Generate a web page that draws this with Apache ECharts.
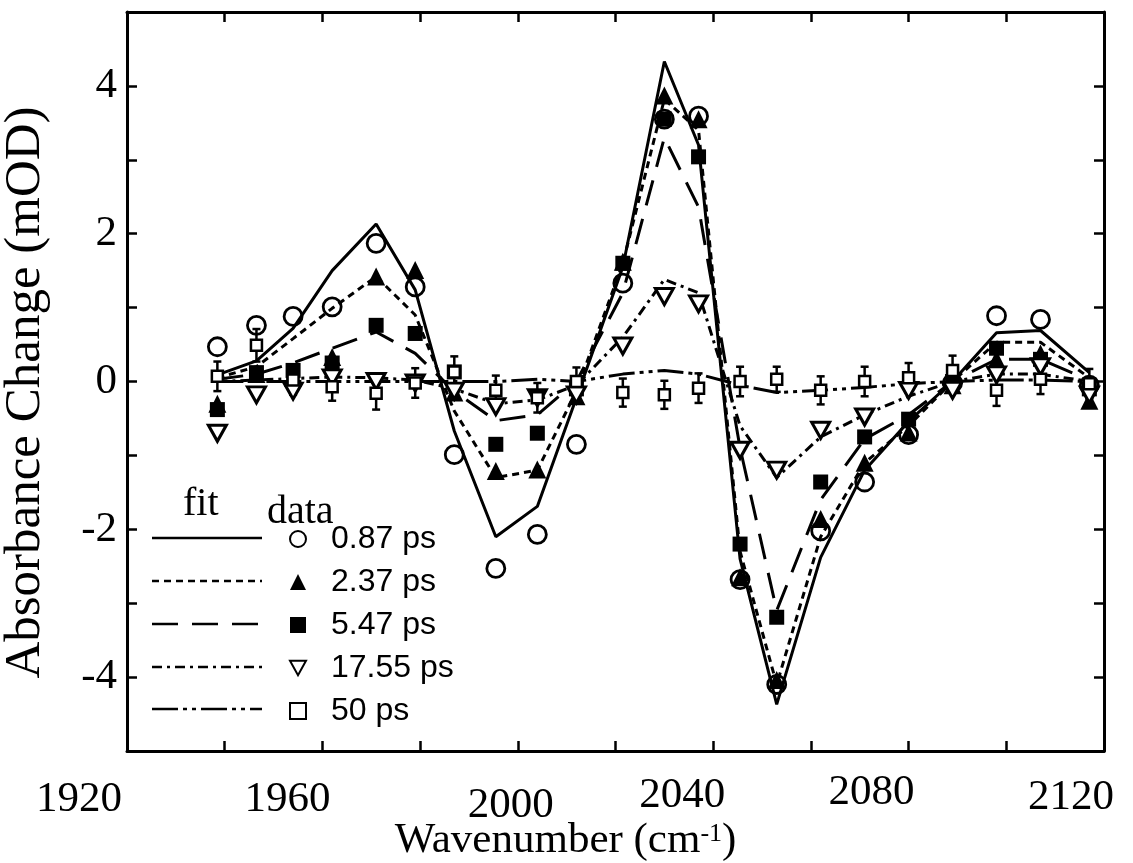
<!DOCTYPE html>
<html>
<head>
<meta charset="utf-8">
<script src="https://cdn.jsdelivr.net/npm/echarts@6/dist/echarts.min.js"></script>
<style>
  html, body { margin: 0; padding: 0; background: #fff; }
  #chart { width: 1133px; height: 863px; }
</style>
</head>
<body>
<div id="chart"></div>
<script>
// wavenumber of each measured point (cm-1)
const wavenumber = [1938.5, 1946.5, 1954, 1962, 1971, 1979, 1987, 1995.5, 2004, 2012, 2021.5,
  2030, 2037, 2045.5, 2053, 2062, 2071, 2080, 2089, 2098, 2107, 2117]

const delays = ['0.87 ps', '2.37 ps', '5.47 ps', '17.55 ps', '50 ps']

// measured absorbance change (mOD)
const data087 = [0.47, 0.76, 0.88, 1.01, 1.87, 1.28, -0.99, -2.53, -2.07, -0.85, 1.33,
  3.55, 3.59, -2.68, -4.1, -2.02, -1.36, -0.72, -0.02, 0.89, 0.84, -0.05]
const data237 = [-0.3, 0.1, 0.05, 0.33, 1.42, 1.51, -0.15, -1.21, -1.19, -0.2, 1.62,
  3.87, 3.55, -2.65, -4.04, -1.86, -1.1, -0.69, -0.05, 0.3, 0.38, -0.26]
const data547 = [-0.38, 0.12, 0.15, 0.25, 0.76, 0.65, 0.13, -0.85, -0.7, -0.1, 1.6,
  3.55, 3.04, -2.2, -3.19, -1.36, -0.75, -0.51, 0.0, 0.45, 0.3, -0.1]
const data1755 = [-0.7, -0.18, -0.13, 0.05, 0.0, -0.02, -0.13, -0.34, -0.22, -0.18, 0.48,
  1.15, 1.05, -0.93, -1.2, -0.66, -0.48, -0.12, -0.12, 0.09, 0.2, -0.18]
const data50 = [0.07, 0.49, 0.02, -0.07, -0.16, -0.02, 0.13, -0.12, -0.22, 0.0, -0.15,
  -0.18, -0.09, 0.0, 0.03, -0.12, 0.0, 0.05, 0.15, -0.12, 0.03, -0.03]
const err50 = [0.2, 0.22, 0.2, 0.19, 0.22, 0.2, 0.21, 0.2, 0.2, 0.19, 0.19,
  0.19, 0.2, 0.2, 0.17, 0.19, 0.2, 0.2, 0.2, 0.21, 0.2, 0.2]

// global fit curves
const fit087 = [0.09, 0.28, 0.72, 1.5, 2.13, 1.24, -0.67, -2.1, -1.69, -0.22, 1.55,
  4.33, 3.2, -2.4, -4.37, -2.38, -1.2, -0.54, 0.0, 0.66, 0.69, 0.12]
const fit237 = [0.05, 0.2, 0.58, 0.99, 1.42, 0.9, -0.4, -1.3, -1.2, -0.13, 1.6,
  3.82, 3.4, -2.3, -4.1, -2.1, -1.1, -0.6, 0.0, 0.53, 0.53, 0.05]
const fit547 = [0.03, 0.1, 0.25, 0.45, 0.67, 0.38, -0.13, -0.53, -0.45, 0.0, 1.2,
  3.3, 2.36, -0.9, -3.1, -1.6, -0.78, -0.45, 0.0, 0.3, 0.3, 0.02]
const fit1755 = [0.0, 0.02, 0.04, 0.06, 0.05, 0.02, -0.1, -0.3, -0.25, -0.05, 0.6,
  1.38, 1.2, -0.6, -1.3, -0.75, -0.45, -0.2, 0.0, 0.1, 0.1, 0.0]
const fit50 = [0.0, 0.0, 0.0, 0.0, 0.0, 0.0, 0.0, 0.0, 0.03, 0.0, 0.1,
  0.15, 0.1, -0.05, -0.15, -0.12, -0.08, -0.03, 0.0, 0.02, 0.02, 0.0]

const xTickLabels = [1920, 1960, 2000, 2040, 2080, 2120]
const yTickLabels = [-4, -2, 0, 2, 4]

const measured = [data087, data237, data547, data1755, data50]
const fits = [fit087, fit237, fit547, fit1755, fit50]

const SERIF = '"Liberation Serif", "Times New Roman", serif'
const SANS = '"Liberation Sans", Arial, sans-serif'

// marker / dash look per delay
const markerStyle = [
  { symbol: 'circle', size: 18, fill: 'rgba(0,0,0,0)', border: 2.8 },
  { symbol: 'triangle', size: [18, 18], fill: '#000', border: 0 },
  { symbol: 'rect', size: 15, fill: '#000', border: 0 },
  { symbol: 'path://M0,0L20,0L10,18Z', size: [18, 16], fill: '#fff', border: 3 },
  { symbol: 'rect', size: 11, fill: '#fff', border: 2.5 }
]
const dashes = ['solid', [7, 5], [26, 14], [10, 5, 3, 5], [26, 5, 4, 5, 4, 5]]

const pairs = arr => wavenumber.map((w, i) => [w, arr[i]])

// the original figure places the x tick labels a bit off their ticks
const xLabelShift = { 1920: [-48, 14], 1960: [-35, 14], 2000: [-7, 26], 2040: [-31, 6], 2080: [-37, 0], 2120: [-33, 9] }
const xRich = {}
xTickLabels.forEach(v => {
  const [dx, dy] = xLabelShift[v]
  xRich['t' + v] = {
    fontFamily: SERIF, fontSize: 43, color: '#000', lineHeight: 44,
    padding: [dy, dx < 0 ? -2 * dx : 0, 0, dx > 0 ? 2 * dx : 0]
  }
})

const errorBars = (params, api) => {
  const x = api.value(0)
  const y = api.value(1)
  const e = api.value(2)
  const hi = api.coord([x, y + e])
  const lo = api.coord([x, y - e])
  const style = { stroke: '#000', lineWidth: 2.5 }
  return {
    type: 'group',
    children: [
      { type: 'line', shape: { x1: hi[0], y1: hi[1], x2: lo[0], y2: lo[1] }, style },
      { type: 'line', shape: { x1: hi[0] - 4, y1: hi[1], x2: hi[0] + 4, y2: hi[1] }, style },
      { type: 'line', shape: { x1: lo[0] - 4, y1: lo[1], x2: lo[0] + 4, y2: lo[1] }, style }
    ]
  }
}

const series = []
fits.forEach((f, i) => {
  series.push({
    name: 'fit ' + delays[i],
    type: 'line',
    data: pairs(f),
    symbol: 'none',
    z: 3,
    lineStyle: { color: '#000', width: 3, type: dashes[i] }
  })
})
series.push({
  name: 'err 50 ps',
  type: 'custom',
  renderItem: errorBars,
  data: wavenumber.map((w, i) => [w, data50[i], err50[i]]),
  z: 2
})
measured.forEach((d, i) => {
  const m = markerStyle[i]
  series.push({
    name: delays[i],
    type: 'scatter',
    data: pairs(d),
    symbol: m.symbol,
    symbolSize: m.size,
    z: 4,
    itemStyle: { color: m.fill, borderColor: '#000', borderWidth: m.border, opacity: 1 }
  })
})

// fit column of the legend
const legendRows = [538, 581, 624, 667, 709]
const graphic = [
  { type: 'text', left: 183, top: 484, style: { text: 'fit', font: '40px ' + SERIF, fill: '#000' } },
  { type: 'text', left: 267, top: 492, style: { text: 'data', font: '40px ' + SERIF, fill: '#000' } }
]
legendRows.forEach((y, i) => {
  graphic.push({
    type: 'line',
    shape: { x1: 152, y1: y, x2: 262, y2: y },
    style: { stroke: '#000', lineWidth: 2.5, lineDash: dashes[i] === 'solid' ? null : dashes[i] }
  })
})

const chart = echarts.init(document.getElementById('chart'))
chart.setOption({
  animation: false,
  backgroundColor: '#fff',
  grid: { left: 127, right: 29, top: 12, bottom: 112, containLabel: false, outerBoundsMode: 'none' },
  legend: {
    orient: 'vertical',
    left: 284,
    top: 518,
    itemWidth: 16,
    itemHeight: 16,
    itemGap: 11,
    selectedMode: false,
    data: delays,
    textStyle: { fontFamily: SANS, fontSize: 32, color: '#000', lineHeight: 30, padding: [0, 0, 0, 20] }
  },
  xAxis: [
    {
      type: 'value', min: 1920, max: 2120, interval: 20, position: 'bottom',
      axisLine: { onZero: false, lineStyle: { color: '#000', width: 3 } },
      axisTick: { inside: true, length: 10, lineStyle: { color: '#000', width: 2.5 } },
      splitLine: { show: false },
      axisLabel: {
        margin: 20,
        hideOverlap: false,
        formatter: v => xTickLabels.includes(v) ? `{t${v}|${v}}` : '',
        rich: xRich
      },
      name: '{n|Wavenumber (cm}{s|-1}{n|)}',
      nameLocation: 'middle',
      nameGap: 66,
      nameMoveOverlap: false,
      nameTextStyle: {
        padding: [0, 100, 0, 0],
        rich: {
          n: { fontFamily: SERIF, fontSize: 43, color: '#000', lineHeight: 48 },
          s: { fontFamily: SERIF, fontSize: 26, color: '#000', lineHeight: 48, verticalAlign: 'top', padding: [4, 0, 0, 0] }
        }
      }
    },
    {
      type: 'value', min: 1920, max: 2120, interval: 20, position: 'top',
      axisLine: { onZero: false, lineStyle: { color: '#000', width: 3 } },
      axisTick: { inside: true, length: 10, lineStyle: { color: '#000', width: 2.5 } },
      axisLabel: { show: false },
      splitLine: { show: false }
    }
  ],
  yAxis: [
    {
      type: 'value', min: -5, max: 5, interval: 1, position: 'left',
      axisLine: { onZero: false, lineStyle: { color: '#000', width: 3 } },
      axisTick: { inside: true, length: 10, lineStyle: { color: '#000', width: 2.5 } },
      splitLine: { show: false },
      axisLabel: {
        margin: 10,
        fontFamily: SERIF, fontSize: 43, color: '#000',
        formatter: v => yTickLabels.includes(v) ? String(v) : ''
      },
      name: 'Absorbance Change (mOD)',
      nameLocation: 'middle',
      nameRotate: 90,
      nameGap: 76,
      nameMoveOverlap: false,
      nameTextStyle: { fontFamily: SERIF, fontSize: 51, color: '#000', padding: [0, 22, 0, 0] }
    },
    {
      type: 'value', min: -5, max: 5, interval: 1, position: 'right',
      axisLine: { onZero: false, lineStyle: { color: '#000', width: 3 } },
      axisTick: { inside: true, length: 10, lineStyle: { color: '#000', width: 2.5 } },
      axisLabel: { show: false },
      splitLine: { show: false }
    }
  ],
  graphic,
  series
})
</script>
</body>
</html>
